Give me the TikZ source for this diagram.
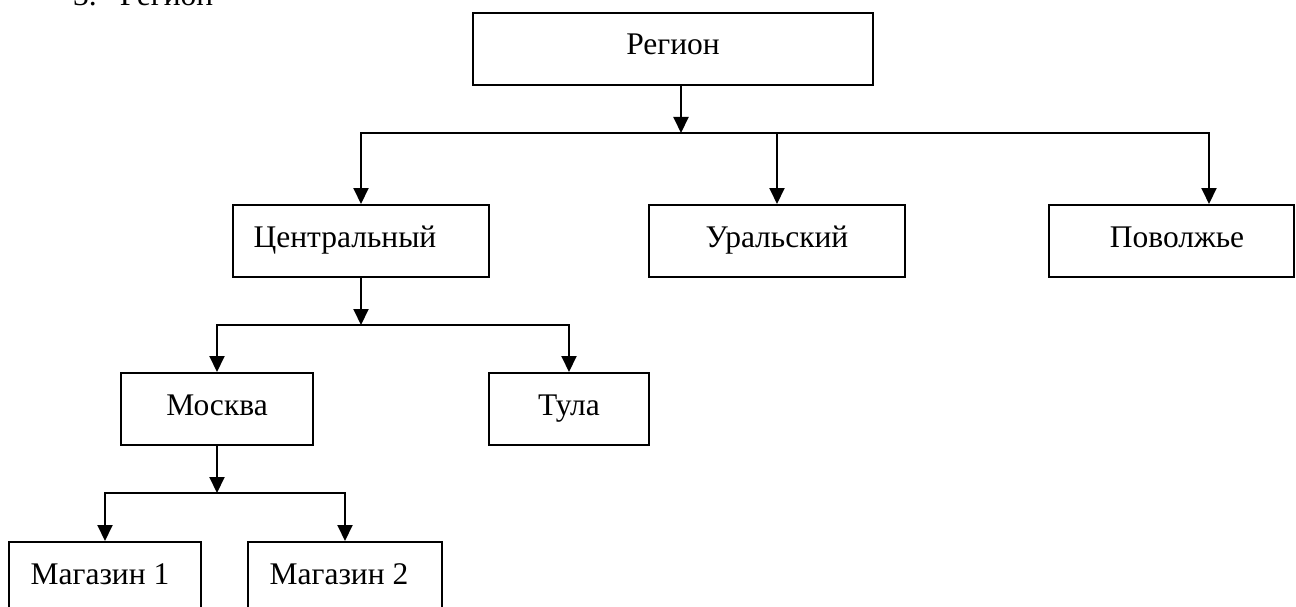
\documentclass[tikz,border=0pt]{standalone}
\usepackage{fontspec}
\setmainfont{Liberation Serif}
\usetikzlibrary{arrows.meta}
\begin{document}
\begin{tikzpicture}[x=1pt,y=-1pt,
  box/.style={draw, line width=2pt, minimum height=72pt, inner sep=0pt,
    text height=22pt, text depth=10pt, font=\fontsize{31.5}{36}\selectfont},
  arr/.style={line width=2pt, -{Triangle[width=15pt,length=16pt]}},
  lbl/.style={font=\fontsize{31.5}{36}\selectfont, inner sep=0pt}]
\useasboundingbox (0,0) rectangle (1296,607);
% heading (cut off at the top, as in the reference)
\node[lbl, anchor=base west] (title) at (73,5.5) {3.\hspace{23pt}Регион};
% boxes
\node[box, minimum width=400pt] (reg) at (673,49) {Регион};
\node[box, minimum width=256pt] (cen) at (361,241) {Центральный\hspace{32pt}\null};
\node[box, minimum width=256pt] (ural) at (777,241) {Уральский};
\node[box, minimum width=245pt] (pov) at (1171.5,241) {\null\hspace{11pt}Поволжье};
\node[box, minimum width=192pt] (mos) at (217,409) {Москва};
\node[box, minimum width=160pt] (tula) at (569,409) {Тула};
\node[box, minimum width=192pt] (mag1) at (105,578) {Магазин 1\hspace{10pt}\null};
\node[box, minimum width=194pt] (mag2) at (345,578) {Магазин 2\hspace{12pt}\null};
% junctions
\coordinate (j1) at (681,133);
\coordinate (p1) at (1209,133);
\coordinate (j2) at (361,325);
\coordinate (j3) at (217,493);
% level 1
\draw[arr] (reg.south -| j1) -- (j1);
\draw[arr] (j1) -| (cen.north);
\draw[arr] (j1) -- (p1) -- (p1 |- pov.north);
\draw[arr] (ural.north |- j1) -- (ural.north);
% level 2
\draw[arr] (cen.south) -- (j2);
\draw[arr] (j2) -| (mos.north);
\draw[arr] (j2) -| (tula.north);
% level 3
\draw[arr] (mos.south) -- (j3);
\draw[arr] (j3) -| (mag1.north);
\draw[arr] (j3) -| (mag2.north);
\end{tikzpicture}
\end{document}
